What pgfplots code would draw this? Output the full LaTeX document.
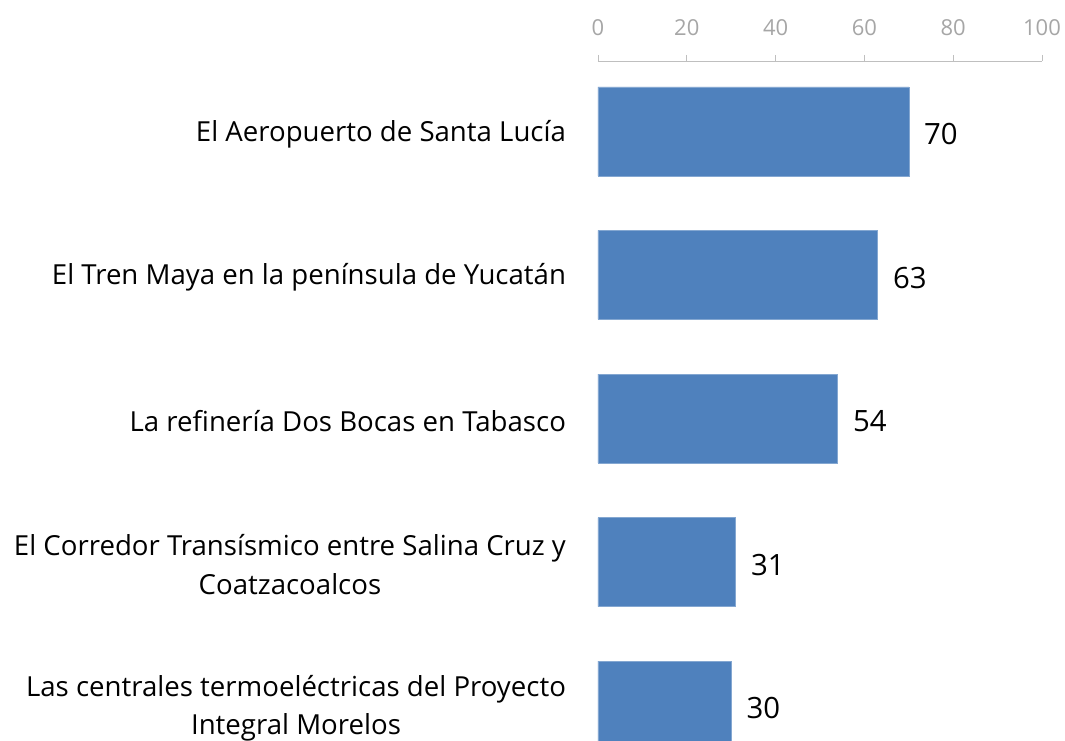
\documentclass[border=0pt]{standalone}
\usepackage{fontspec}
\setmainfont{Open Sans}
\usepackage{pgfplots}
\pgfplotsset{compat=1.18}
\definecolor{BarBlue}{HTML}{4F81BD}
\definecolor{AxisGray}{HTML}{BFBFBF}
\definecolor{TickGray}{HTML}{A6A6A6}
\begin{document}
\begin{tikzpicture}
  \begin{axis}[
    scale only axis,width=333pt,height=510pt,
    xbar,bar width=0.62,bar shift=0pt,
    xmin=0,xmax=100,ymin=-0.491,ymax=4.247,
    y dir=reverse,
    axis x line*=top,axis y line*=left,
    y axis line style={draw=none},
    x axis line style={draw=AxisGray,line width=0.6pt},
    xtick={0,20,...,100},
    tick align=outside,major tick length=4.5pt,
    x tick style={draw=AxisGray,line width=0.6pt},
    y tick style={draw=none},
    x tick label style={font=\fontsize{16.5}{18}\selectfont,color=TickGray,yshift=11pt},
    /pgf/number format/assume math mode=true,
    ytick={0,...,4},
    yticklabels={El Aeropuerto de Santa Lucía,
      El Tren Maya en la península de Yucatán,
      La refinería Dos Bocas en Tabasco,
      {El Corredor Transísmico entre Salina Cruz y\\Coatzacoalcos},
      {Las centrales termoeléctricas del Proyecto\\Integral Morelos}},
    y tick label style={font=\fontsize{20.7}{29}\selectfont,align=center,anchor=east,xshift=-16pt,yshift=-2pt},
    nodes near coords,
    every node near coord/.append style={font=\fontsize{22}{24}\selectfont,color=black,xshift=8pt,yshift=-2pt},
  ]
    \addplot[fill=BarBlue,draw=BarBlue!70!white,line width=0.4pt] coordinates {
      (70,0) (63,1) (54,2) (31,3) (30,4)};
  \end{axis}
  \pgfresetboundingbox
  \path[use as bounding box] (-448.5pt,0pt) rectangle (350.25pt,555.75pt);
\end{tikzpicture}
\end{document}
